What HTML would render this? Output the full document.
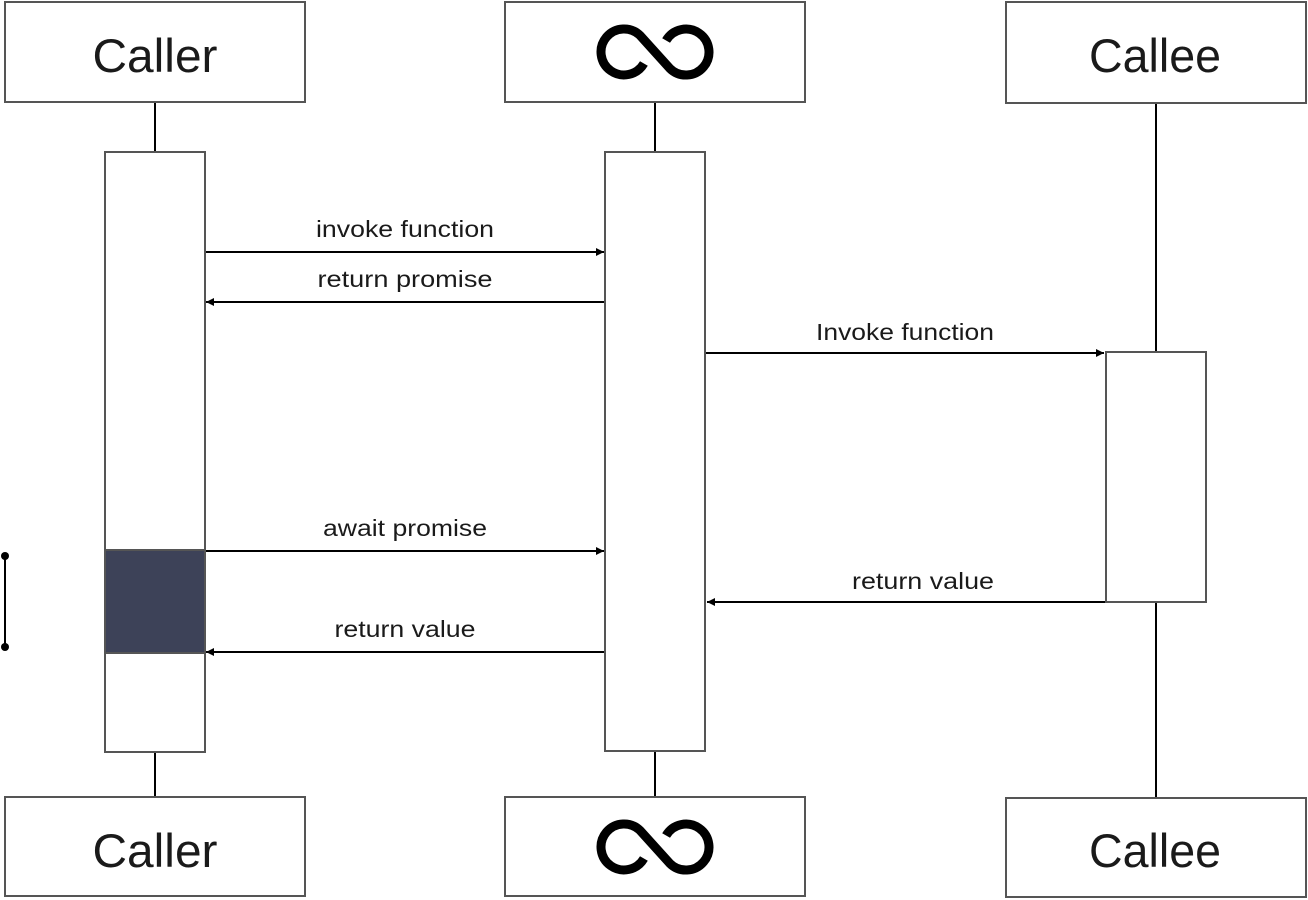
<!DOCTYPE html>
<html><head><style>
body{margin:0;background:#fff;}
svg{display:block}
text{font-family:"Liberation Sans",sans-serif;fill:#1a1a1a}
</style></head><body>
<svg width="1308" height="900" viewBox="0 0 1308 900" xmlns="http://www.w3.org/2000/svg">
<defs>
<marker id="a" markerWidth="10" markerHeight="10" refX="8" refY="4" orient="auto" markerUnits="userSpaceOnUse"><path d="M0,0 L8,4 L0,8 z" fill="#000"/></marker>
<g id="inf"><path d="M643.9,63.5 A23,23 0 1 1 640.3,35.7 L669.7,68.3 A23,23 0 1 0 666.1,40.5" fill="none" stroke="#000" stroke-width="9"/></g>
</defs>
<g stroke="#000" stroke-width="2">
<line x1="155" y1="102" x2="155" y2="152"/>
<line x1="155" y1="752" x2="155" y2="797"/>
<line x1="655" y1="102" x2="655" y2="152"/>
<line x1="655" y1="752" x2="655" y2="797"/>
<line x1="1156" y1="102" x2="1156" y2="352"/>
<line x1="1156" y1="602" x2="1156" y2="797"/>
</g>
<g fill="#fff" stroke="#555" stroke-width="2">
<rect x="5" y="2" width="300" height="100"/>
<rect x="505" y="2" width="300" height="100"/>
<rect x="1006" y="2" width="300" height="101"/>
<rect x="5" y="797" width="300" height="99"/>
<rect x="505" y="797" width="300" height="99"/>
<rect x="1006" y="798" width="300" height="99"/>
<rect x="105" y="152" width="100" height="600"/>
<rect x="605" y="152" width="100" height="599"/>
<rect x="1106" y="352" width="100" height="250"/>
<rect x="105" y="550" width="100" height="103" fill="#3d4258"/>
</g>
<use href="#inf"/>
<use href="#inf" y="795"/>
<g font-size="47" text-anchor="middle">
<text x="155" y="72" textLength="125" lengthAdjust="spacingAndGlyphs">Caller</text>
<text x="1155" y="72" textLength="132" lengthAdjust="spacingAndGlyphs">Callee</text>
<text x="155" y="867" textLength="125" lengthAdjust="spacingAndGlyphs">Caller</text>
<text x="1155" y="867" textLength="132" lengthAdjust="spacingAndGlyphs">Callee</text>
</g>
<g stroke="#000" stroke-width="2">
<line x1="206" y1="252" x2="604" y2="252" marker-end="url(#a)"/>
<line x1="604" y1="302" x2="206" y2="302" marker-end="url(#a)"/>
<line x1="706" y1="353" x2="1104" y2="353" marker-end="url(#a)"/>
<line x1="206" y1="551" x2="604" y2="551" marker-end="url(#a)"/>
<line x1="1105" y1="602" x2="707" y2="602" marker-end="url(#a)"/>
<line x1="604" y1="652" x2="206" y2="652" marker-end="url(#a)"/>
<line x1="5" y1="556" x2="5" y2="647"/>
</g>
<circle cx="5" cy="556" r="4" fill="#000"/>
<circle cx="5" cy="647" r="4" fill="#000"/>
<g font-size="23" text-anchor="middle">
<text x="405" y="237" textLength="178" lengthAdjust="spacingAndGlyphs">invoke function</text>
<text x="405" y="287" textLength="175" lengthAdjust="spacingAndGlyphs">return promise</text>
<text x="905" y="340" textLength="178" lengthAdjust="spacingAndGlyphs">Invoke function</text>
<text x="405" y="536" textLength="164" lengthAdjust="spacingAndGlyphs">await promise</text>
<text x="923" y="589" textLength="142" lengthAdjust="spacingAndGlyphs">return value</text>
<text x="405" y="637" textLength="141" lengthAdjust="spacingAndGlyphs">return value</text>
</g>
</svg>
</body></html>
